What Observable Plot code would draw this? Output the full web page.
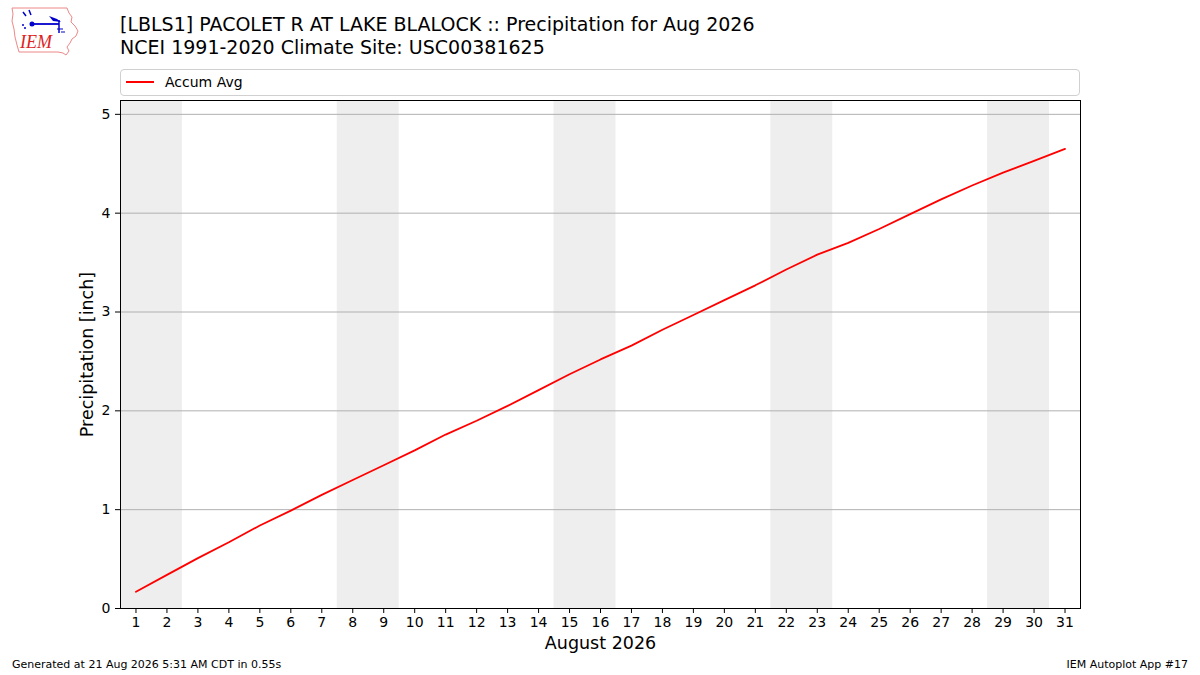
<!DOCTYPE html>
<html>
<head>
<meta charset="utf-8">
<script src="https://cdn.jsdelivr.net/npm/d3@7"></script>
<script src="https://cdn.jsdelivr.net/npm/@observablehq/plot@0.6"></script>
<style>
  html, body { margin: 0; padding: 0; background: #fff; }
  #wrap { position: relative; width: 1200px; height: 675px; overflow: hidden; font-family: "DejaVu Sans", sans-serif; color: #000; }
  #chart { position: absolute; left: 0; top: 0; }
  .title { position: absolute; left: 120px; font-size: 19px; line-height: 23px; white-space: nowrap; }
  #legend { position: absolute; left: 120px; top: 69px; width: 958px; height: 25px; border: 1px solid #d0d0d0; border-radius: 4px; background: rgba(255,255,255,0.8); box-sizing: content-box; }
  #legend .swatch { position: absolute; left: 5px; top: 11px; width: 28px; height: 0; border-top: 2px solid red; }
  #legend .lab { position: absolute; left: 44px; top: 3px; font-size: 14px; line-height: 18px; }
  .foot { position: absolute; top: 658px; font-size: 11px; line-height: 14px; white-space: nowrap; }
  #logo { position: absolute; left: 9px; top: 5px; }
</style>
</head>
<body>
<div id="wrap">
  <div id="chart"></div>
  <svg id="logo" width="72" height="54" viewBox="0 0 72 54">
    <path d="M3,3 L58,3 L60,8 L63,12 L62,17 L66,21 L69,26 L67,31 L63,34 L61,38 L58,42 L60,46 L57,50 L54,48 L49,47 L10,47 L8,40 L6,32 L5,24 L3,16 L4,9 Z" fill="none" stroke="#e88" stroke-width="1"/>
    <path d="M14,7 L17,11 M20,5 L22,10" stroke="#0000cc" stroke-width="1.5" fill="none"/>
    <line x1="22" y1="19" x2="50" y2="19" stroke="#0000cc" stroke-width="1.8"/>
    <circle cx="23" cy="19" r="2.5" fill="#0000cc"/>
    <path d="M40,11 L48,14 L52,17 L44,16 Z" fill="#0000cc"/>
    <line x1="50" y1="15" x2="50" y2="28" stroke="#0000cc" stroke-width="1.5"/>
    <path d="M48,24 L54,24 M52,27 L56,27" stroke="#0000cc" stroke-width="1.2"/>
    <circle cx="14" cy="20" r="1" fill="#0000cc"/><circle cx="16" cy="23" r="1" fill="#0000cc"/>
    <text x="11" y="43" font-family="Liberation Serif, serif" font-style="italic" font-size="18" fill="#d22">IEM</text>
  </svg>
  <div class="title" style="top:13px">[LBLS1] PACOLET R AT LAKE BLALOCK :: Precipitation for Aug 2026</div>
  <div class="title" style="top:36px">NCEI 1991-2020 Climate Site: USC00381625</div>
  <div id="legend"><div class="swatch"></div><div class="lab">Accum Avg</div></div>
  <div class="foot" style="left:12px">Generated at 21 Aug 2026 5:31 AM CDT in 0.55s</div>
  <div class="foot" style="right:12px">IEM Autoplot App #17</div>
</div>
<script>
// Days of August 2026 (x tick labels)
const days = [1,2,3,4,5,6,7,8,9,10,11,12,13,14,15,16,17,18,19,20,21,22,23,24,25,26,27,28,29,30,31];
// Accumulated average precipitation [inch]
const accumAvg = [0.17,0.34,0.51,0.67,0.84,0.99,1.15,1.30,1.45,1.60,1.76,1.90,2.05,2.21,2.37,2.52,2.66,2.82,2.97,3.12,3.27,3.43,3.58,3.70,3.84,3.99,4.14,4.28,4.41,4.53,4.65];
// Weekend spans (first day, last day)
const weekendStart = [1, 8, 15, 22, 29];
const weekendEnd = [2, 9, 16, 23, 30];
// Y ticks
const yTicks = [0,1,2,3,4,5];
const yGrid = [1,2,3,4,5];
const yMax = 5.14;

const data = days.map((d, i) => ({day: d, avg: accumAvg[i]}));
const weekends = weekendStart.map((s, i) => ({start: s, end: weekendEnd[i]}));

const chart = Plot.plot({
  width: 1200,
  height: 675,
  marginTop: 100,
  marginBottom: 67,
  marginLeft: 120,
  marginRight: 120,
  style: {fontFamily: "DejaVu Sans, sans-serif", fontSize: "14px", background: "transparent", color: "#000"},
  x: {domain: [0.5, 31.5]},
  y: {domain: [0, yMax]},
  marks: [
    Plot.rect(weekends, {x1: d => d.start - 0.5, x2: d => d.end + 0.5, y1: 0, y2: yMax, fill: "#eeeeee"}),
    Plot.gridY(yGrid, {stroke: "#b0b0b0", strokeOpacity: 1, strokeWidth: 1}),
    Plot.line(data, {x: "day", y: "avg", stroke: "red", strokeWidth: 1.8}),
    Plot.frame({stroke: "#000", strokeWidth: 1}),
    Plot.axisX(days, {tickSize: 5, tickPadding: 4, tickFormat: d => String(d), label: null, fontSize: 14}),
    Plot.axisY(yTicks, {tickSize: 5, tickPadding: 5, tickFormat: d => String(d), label: null, fontSize: 14}),
    Plot.text(["Precipitation [inch]"], {frameAnchor: "left", textAnchor: "middle", dx: -33, rotate: -90, fontSize: 17.5}),
    Plot.text(["August 2026"], {frameAnchor: "bottom", dy: 40, fontSize: 17.5})
  ]
});
document.getElementById("chart").appendChild(chart);
</script>
</body>
</html>
